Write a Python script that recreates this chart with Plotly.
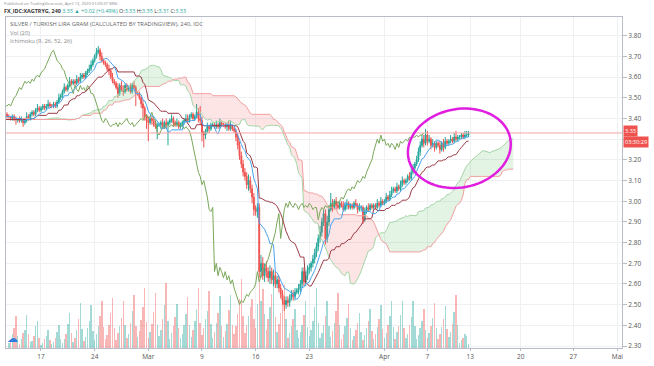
import numpy as np
import pandas as pd
import plotly.graph_objects as go

# ---------------- data ----------------
# x unit = trading day; day 0 = Mon Feb 17 2020; 6 bars of 240 min per day
FIRST_DAY = -7
BARS_PER_DAY = 6
FIRST_OPEN = 3.40

closes = [
    3.39, 3.40, 3.38, 3.39, 3.41, 3.40,   # d-7 (history left of the window)
    3.41, 3.42, 3.40, 3.39, 3.38, 3.37,   # d-6
    3.38, 3.39, 3.40, 3.41, 3.40, 3.41,   # d-5
    3.42, 3.41, 3.40, 3.41, 3.42, 3.41,   # d-4
    3.41, 3.40, 3.41, 3.40, 3.39, 3.40,   # d-3
    3.39, 3.40, 3.38, 3.39, 3.41, 3.40,   # d-2
    3.42, 3.43, 3.42, 3.44, 3.45, 3.44,   # d-1
    3.45, 3.46, 3.45, 3.46, 3.47, 3.46,   # d0  Feb 17
    3.46, 3.47, 3.46, 3.48, 3.50, 3.51,   # d1
    3.53, 3.55, 3.54, 3.56, 3.58, 3.57,   # d2
    3.58, 3.57, 3.59, 3.58, 3.60, 3.61,   # d3
    3.60, 3.62, 3.63, 3.64, 3.66, 3.68,   # d4
    3.70, 3.72, 3.73, 3.70, 3.68, 3.67,   # d5  Feb 24
    3.66, 3.64, 3.63, 3.60, 3.58, 3.57,   # d6
    3.55, 3.52, 3.56, 3.54, 3.53, 3.56,   # d7
    3.54, 3.55, 3.53, 3.56, 3.55, 3.52,   # d8
    3.52, 3.50, 3.47, 3.45, 3.41, 3.39,   # d9
    3.38, 3.40, 3.39, 3.37, 3.36, 3.37,   # d10 Mar 2
    3.37, 3.38, 3.36, 3.38, 3.37, 3.38,   # d11
    3.39, 3.40, 3.38, 3.37, 3.38, 3.36,   # d12
    3.37, 3.38, 3.39, 3.40, 3.39, 3.41,   # d13
    3.42, 3.40, 3.41, 3.43, 3.40, 3.39,   # d14
    3.33, 3.32, 3.34, 3.36, 3.35, 3.37,   # d15 Mar 9
    3.37, 3.36, 3.37, 3.36, 3.38, 3.37,   # d16
    3.37, 3.36, 3.37, 3.35, 3.36, 3.35,   # d17
    3.34, 3.31, 3.27, 3.22, 3.18, 3.14,   # d18
    3.12, 3.08, 3.10, 3.06, 3.02, 2.96,   # d19
    2.95, 2.97, 2.66, 2.70, 2.64, 2.68,   # d20 Mar 16
    2.66, 2.63, 2.66, 2.62, 2.64, 2.60,   # d21
    2.62, 2.58, 2.55, 2.52, 2.50, 2.52,   # d22
    2.51, 2.53, 2.55, 2.54, 2.56, 2.57,   # d23
    2.58, 2.60, 2.66, 2.61, 2.64, 2.67,   # d24
    2.68, 2.70, 2.72, 2.75, 2.78, 2.82,   # d25 Mar 23
    2.85, 2.90, 2.94, 2.82, 2.90, 2.96,   # d26
    2.99, 2.97, 3.00, 2.98, 2.97, 2.99,   # d27
    2.98, 2.96, 2.98, 2.99, 2.97, 2.98,   # d28
    2.97, 2.99, 2.98, 2.96, 2.97, 2.97,   # d29
    2.91, 2.95, 2.97, 2.96, 2.98, 2.97,   # d30 Mar 30
    2.98, 2.97, 2.99, 2.98, 3.00, 2.99,   # d31
    3.00, 3.02, 3.01, 3.03, 3.05, 3.06,   # d32 Apr 1
    3.05, 3.07, 3.06, 3.08, 3.10, 3.09,   # d33
    3.10, 3.12, 3.11, 3.14, 3.16, 3.18,   # d34
    3.20, 3.24, 3.27, 3.30, 3.28, 3.32,   # d35 Apr 6
    3.29, 3.30, 3.27, 3.28, 3.26, 3.28,   # d36
    3.27, 3.25, 3.28, 3.26, 3.29, 3.28,   # d37
    3.29, 3.30, 3.29, 3.31, 3.30, 3.31,   # d38
    3.31, 3.32, 3.31, 3.32, 3.32, 3.33,   # d39 Apr 10
]

# upper / lower wick beyond the body, in hundredths
wick_up = [
    1, 1, 1, 1, 1, 1,   1, 1, 1, 1, 1, 1,   1, 1, 1, 1, 1, 1,   1, 1, 1, 1, 1, 1,
    1, 0, 1, 1, 1, 0,   1, 1, 0, 1, 2, 1,   1, 1, 1, 1, 2, 1,   1, 1, 1, 1, 2, 1,
    1, 1, 1, 1, 2, 1,   1, 2, 1, 1, 2, 1,   1, 1, 2, 1, 2, 1,   1, 1, 1, 2, 2, 1,
    1, 2, 2, 1, 2, 1,   1, 1, 2, 1, 2, 1,   1, 2, 1, 2, 2, 1,   1, 1, 2, 1, 2, 1,
    1, 1, 1, 2, 1, 1,   2, 1, 1, 1, 2, 1,   1, 1, 2, 1, 2, 1,   1, 2, 1, 1, 2, 1,
    1, 1, 1, 2, 2, 1,   1, 1, 1, 4, 2, 6,   2, 1, 1, 2, 1, 1,   1, 1, 2, 1, 2, 1,
    1, 1, 1, 2, 3, 1,   1, 1, 2, 2, 2, 2,   2, 2, 3, 2, 2, 2,   2, 2, 2, 4, 3, 2,
    3, 2, 3, 2, 3, 2,   2, 2, 2, 2, 2, 2,   2, 2, 2, 2, 2, 1,   2, 2, 2, 2, 2, 2,
    2, 1, 2, 2, 2, 2,   3, 2, 2, 2, 3, 2,   5, 2, 1, 2, 2, 1,   1, 2, 1, 2, 1, 1,
    1, 1, 2, 1, 2, 1,   1, 2, 1, 2, 1, 1,   1, 1, 2, 1, 2, 1,   1, 2, 1, 2, 2, 1,
    1, 2, 1, 2, 2, 1,   1, 1, 2, 2, 2, 1,   2, 2, 2, 2, 2, 3,   2, 2, 1, 2, 1, 1,
    1, 2, 1, 2, 2, 1,   1, 2, 1, 2, 3, 1,   1, 1, 1, 2, 2, 1,
]
wick_dn = [
    1, 1, 1, 1, 1, 1,   1, 1, 1, 1, 1, 1,   1, 1, 1, 1, 1, 1,   1, 1, 1, 1, 1, 1,
    1, 1, 1, 1, 2, 1,   1, 1, 2, 1, 1, 1,   1, 1, 1, 1, 1, 1,   1, 1, 1, 1, 1, 1,
    1, 1, 1, 1, 1, 1,   1, 1, 1, 1, 1, 1,   1, 1, 1, 1, 1, 1,   1, 1, 1, 1, 1, 1,
    1, 1, 1, 2, 1, 1,   1, 1, 2, 1, 1, 1,   1, 2, 1, 1, 2, 1,   1, 1, 1, 1, 1, 6,
    1, 1, 2, 5, 2, 4,   9, 1, 2, 1, 1, 6,   1, 2, 1, 1, 2, 10,  1, 1, 2, 1, 1, 1,
    1, 1, 1, 1, 1, 1,   1, 1, 1, 1, 2, 2,   4, 6, 2, 1, 2, 1,   1, 1, 1, 1, 1, 1,
    1, 1, 2, 1, 1, 1,   1, 2, 2, 2, 2, 2,   2, 2, 3, 2, 3, 3,   2, 3, 3, 3, 2, 3,
    3, 2, 3, 2, 3, 2,   2, 2, 2, 2, 3, 2,   2, 2, 1, 2, 2, 1,   2, 2, 2, 2, 2, 2,
    2, 2, 2, 2, 2, 2,   2, 2, 2, 3, 2, 2,   1, 2, 1, 2, 1, 1,   1, 1, 1, 2, 1, 1,
    1, 1, 1, 2, 1, 2,   2, 1, 1, 1, 1, 1,   1, 1, 1, 1, 1, 1,   1, 1, 1, 1, 1, 1,
    1, 1, 1, 1, 1, 1,   1, 1, 1, 1, 1, 1,   1, 1, 2, 1, 2, 1,   2, 1, 2, 1, 2, 1,
    1, 2, 1, 2, 1, 1,   1, 1, 1, 1, 1, 1,   1, 1, 1, 1, 1, 1,
]

# volume of the visible bars (day -3 .. day 39), arbitrary units
VOL_FIRST_DAY = -3
volume = [
    5, 8, 14, 20, 33, 12,     4, 9, 15, 18, 34, 14,     6, 7, 12, 22, 28, 10,
    3, 5, 9, 12, 18, 8,       4, 6, 10, 16, 24, 9,      5, 9, 14, 25, 36, 15,
    6, 10, 18, 30, 46, 19,    7, 11, 20, 28, 44, 17,    8, 14, 22, 33, 48, 21,
    9, 13, 24, 36, 51, 20,    8, 15, 22, 31, 48, 23,    10, 14, 26, 38, 54, 22,
    11, 17, 29, 42, 61, 27,   10, 16, 25, 37, 56, 24,   12, 18, 30, 44, 66, 28,
    9, 15, 22, 32, 45, 20,    10, 14, 24, 35, 52, 23,   11, 18, 28, 40, 61, 26,
    13, 20, 30, 38, 58, 25,   10, 16, 26, 36, 53, 22,   11, 17, 25, 39, 54, 24,
    14, 22, 35, 50, 70, 33,   15, 24, 33, 42, 50, 30,   20, 45, 70, 48, 60, 35,
    18, 30, 42, 55, 70, 32,   16, 25, 36, 48, 64, 30,   10, 15, 22, 30, 40, 18,
    10, 16, 24, 34, 48, 21,   12, 18, 28, 42, 61, 26,   10, 15, 24, 33, 48, 22,
    11, 17, 26, 38, 56, 24,   9, 14, 22, 31, 45, 20,    8, 12, 18, 26, 36, 16,
    8, 13, 20, 28, 40, 17,    9, 14, 21, 30, 44, 19,    10, 15, 23, 33, 48, 21,
    9, 16, 22, 34, 48, 20,    10, 14, 24, 32, 48, 22,   9, 13, 20, 28, 40, 18,
    10, 15, 22, 31, 46, 20,   9, 14, 21, 30, 43, 19,    11, 16, 25, 37, 54, 23,
    5, 8, 10, 14, 12, 4,
]

tick_days = [0, 5, 10, 15, 20, 25, 32, 36, 40, 44.7, 49.6, 53.7]
tick_text = ["17", "24", "Mar", "9", "16", "23", "Apr", "7", "13", "20", "27", "Mai"]

# price axis ticks; the 3.30 label sits under the last-price tag in the picture
price_ticks = [2.3, 2.4, 2.5, 2.6, 2.7, 2.8, 2.9, 3.0, 3.1, 3.2, 3.3, 3.4, 3.5, 3.6, 3.7, 3.8, 3.9]
price_tick_text = ["2.30", "2.40", "2.50", "2.60", "2.70", "2.80", "2.90", "3.00", "3.10",
                   "3.20", "", "3.40", "3.50", "3.60", "3.70", "3.80", "3.90"]

ICHI_CONV, ICHI_BASE, ICHI_SPANB, ICHI_DISP = 9, 26, 52, 26

# ---------------- layout constants ----------------
W, H = 654, 366
PL, PR, PT, PB = 5, 622, 17, 355
PX_PER_DAY = 10.75
PX_PER_UNIT = 211.25
X_RANGE = [-3.26, -3.26 + (PR - PL) / PX_PER_DAY]
Y_TOP = 3.90 - (PT - 15) / PX_PER_UNIT
Y_RANGE = [Y_TOP - (PB - PT) / PX_PER_UNIT, Y_TOP]
VOL_RANGE = [0, PB - PT]

UP, DOWN = "#26a69a", "#ef5350"

# ---------------- derived series ----------------
c = np.array(closes)
n = len(c)
o = np.concatenate([[FIRST_OPEN], c[:-1]])
hi = np.maximum(o, c) + np.array(wick_up) / 100.0
lo = np.minimum(o, c) - np.array(wick_dn) / 100.0
x = FIRST_DAY + np.arange(n) / BARS_PER_DAY

hs, ls = pd.Series(hi), pd.Series(lo)
def mid(p):
    return ((hs.rolling(p, min_periods=1).max() + ls.rolling(p, min_periods=1).min()) / 2).values
tenkan = mid(ICHI_CONV)
kijun = mid(ICHI_BASE)
spanA = (tenkan + kijun) / 2
spanB = mid(ICHI_SPANB)
off = (ICHI_DISP - 1) / BARS_PER_DAY
x_lead = x + off
x_lag = x - off

fig = go.Figure()

# volume (behind)
vstart = (VOL_FIRST_DAY - FIRST_DAY) * BARS_PER_DAY
vsl = slice(vstart, vstart + len(volume))
vup = c[vsl] >= o[vsl]
fig.add_trace(go.Bar(x=x[vsl], y=volume, width=0.8 / BARS_PER_DAY,
                     marker=dict(color=[("rgba(38,166,154,0.42)" if u else "rgba(239,83,80,0.42)") for u in vup],
                                 line=dict(width=0)),
                     yaxis="y", hoverinfo="skip", showlegend=False))

# cloud fills
top = np.maximum(spanA, spanB)
bot = np.minimum(spanA, spanB)
fig.add_trace(go.Scatter(x=x_lead, y=spanB, mode="lines", line=dict(width=0), yaxis="y2", showlegend=False, hoverinfo="skip"))
fig.add_trace(go.Scatter(x=x_lead, y=top, mode="lines", line=dict(width=0), fill="tonexty",
                         fillcolor="rgba(129,199,132,0.22)", yaxis="y2", showlegend=False, hoverinfo="skip"))
fig.add_trace(go.Scatter(x=x_lead, y=spanB, mode="lines", line=dict(width=0), yaxis="y2", showlegend=False, hoverinfo="skip"))
fig.add_trace(go.Scatter(x=x_lead, y=bot, mode="lines", line=dict(width=0), fill="tonexty",
                         fillcolor="rgba(239,83,80,0.15)", yaxis="y2", showlegend=False, hoverinfo="skip"))

lw = 1
fig.add_trace(go.Scatter(x=x_lead, y=spanA, mode="lines", line=dict(color="#a5d6a7", width=lw), yaxis="y2", showlegend=False))
fig.add_trace(go.Scatter(x=x_lead, y=spanB, mode="lines", line=dict(color="#f2a0a0", width=lw), yaxis="y2", showlegend=False))
fig.add_trace(go.Scatter(x=x_lag, y=c, mode="lines", line=dict(color="#7aa85a", width=lw), yaxis="y2", showlegend=False))
fig.add_trace(go.Scatter(x=x, y=kijun, mode="lines", line=dict(color="#9c3a45", width=lw), yaxis="y2", showlegend=False))
fig.add_trace(go.Scatter(x=x, y=tenkan, mode="lines", line=dict(color="#4aa3f0", width=lw), yaxis="y2", showlegend=False))

fig.add_trace(go.Candlestick(x=x, open=o, high=hi, low=lo, close=c, yaxis="y2",
                             increasing=dict(line=dict(color=UP, width=1), fillcolor=UP),
                             decreasing=dict(line=dict(color=DOWN, width=1), fillcolor=DOWN),
                             whiskerwidth=0, showlegend=False))

# ---------------- helpers for layout positions ----------------
def pxx(px):
    return (px - PL) / (PR - PL)
def pxy(py):
    return (PB - py) / (PB - PT)

FONT = "Open Sans"
ann = []
def txt(px, py, s, size=5.5, color="#777", anchor="left"):
    ann.append(dict(x=pxx(px), y=pxy(py), xref="paper", yref="paper", text=s, showarrow=False,
                    xanchor=anchor, yanchor="middle", font=dict(family=FONT, size=size, color=color)))

txt(1, 3.5, "Published on TradingView.com, April 13, 2020 01:09:37 MSK", 4.1, "#8a8a8a")
g = "#26a69a"
txt(1, 10.5, "<b>FX_IDC:XAGTRYG, 240</b> <span style='color:%s'>3.33 ▲ +0.02 (+0.49%%)</span> "
             "O:<span style='color:%s'>3.33</span> H:<span style='color:%s'>3.35</span> "
             "L:<span style='color:%s'>3.31</span> C:<span style='color:%s'>3.33</span>" % (g, g, g, g, g),
    5.4, "#333")
txt(7, 24.5, "SILVER / TURKISH LIRA GRAM (CALCULATED BY TRADINGVIEW), 240, IDC", 5.8, "#666")
txt(7, 33, "Vol (20)", 5.8, "#888")
txt(7, 41, "Ichimoku (9, 26, 52, 26)", 5.8, "#888")

last = c[-1]
ann.append(dict(x=1, y=last, xref="paper", yref="y2", text="%.2f" % last, showarrow=False,
                xanchor="left", yanchor="middle", bgcolor="#ef5350", borderpad=1, xshift=1, yshift=1.5,
                font=dict(family=FONT, size=5.6, color="white")))
ann.append(dict(x=1, y=last, xref="paper", yref="y2", text="03:30:29", showarrow=False,
                xanchor="left", yanchor="middle", bgcolor="#ef5350", borderpad=1, yshift=-9.5, xshift=1,
                font=dict(family=FONT, size=5.6, color="white")))
ann.append(dict(x=pxx(12), y=pxy(344), xref="paper", yref="paper", text="☁", showarrow=False,
                font=dict(size=11, color="#2f7de1"), xanchor="center", yanchor="middle"))

# magenta hand-drawn ellipse (decoration)
ELL_CENTER = (38.98, 3.256)   # day, price
ELL_AXES_PX = (52, 40)
ELL_TILT = -12
t = np.linspace(0, 2 * np.pi, 80)
th = np.radians(ELL_TILT)
ex = ELL_AXES_PX[0] * np.cos(t) * np.cos(th) - ELL_AXES_PX[1] * np.sin(t) * np.sin(th)
ey = ELL_AXES_PX[0] * np.cos(t) * np.sin(th) + ELL_AXES_PX[1] * np.sin(t) * np.cos(th)
exd = ELL_CENTER[0] + ex / PX_PER_DAY
eyd = ELL_CENTER[1] - ey / PX_PER_UNIT
path = "M " + " L ".join("%.4f,%.4f" % (a, b) for a, b in zip(exd, eyd)) + " Z"

shapes = [
    dict(type="line", xref="paper", x0=0, x1=1, yref="y2", y0=last, y1=last,
         line=dict(color="#f5a5a5", width=1)),
    dict(type="path", xref="x", yref="y2", path=path, line=dict(color="#e01ee0", width=2.5)),
]

axis_font = dict(family=FONT, size=6.5, color="#555")
fig.update_layout(
    width=W, height=H, margin=dict(l=PL, r=W - PR, t=PT, b=H - PB),
    paper_bgcolor="white", plot_bgcolor="white",
    showlegend=False, annotations=ann, shapes=shapes, bargap=0,
    xaxis=dict(range=X_RANGE, tickvals=tick_days, ticktext=tick_text, showgrid=True,
               gridcolor="#eef0f4", gridwidth=1, zeroline=False, showline=True, mirror=True,
               linecolor="#b8bcc6", ticks="outside", ticklen=2, tickcolor="#b8bcc6",
               tickfont=axis_font, rangeslider=dict(visible=False)),
    yaxis=dict(range=VOL_RANGE, visible=False, fixedrange=True),
    yaxis2=dict(range=Y_RANGE, overlaying="y", side="right", tickvals=price_ticks,
                ticktext=price_tick_text, showgrid=True, gridcolor="#eef0f4", zeroline=False,
                showline=True, mirror=True, linecolor="#b8bcc6", ticks="outside", ticklen=4,
                tickcolor="#b8bcc6", tickfont=axis_font),
)

fig.write_html("out.html", config={"displayModeBar": False},
               post_script="document.body.style.margin='0';document.body.style.overflow='hidden';")
